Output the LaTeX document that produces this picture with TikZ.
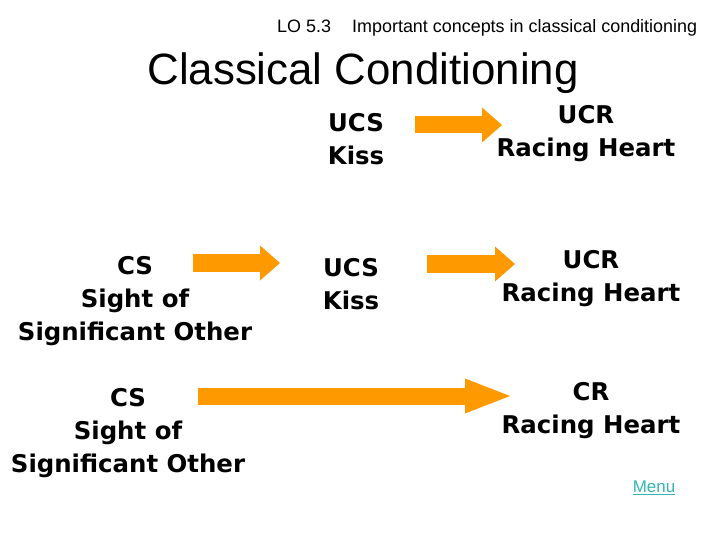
\documentclass[tikz,border=0pt]{standalone}
\usepackage{fontspec}
\setmainfont{Liberation Sans}
\newfontfamily\comicfont{DejaVu Sans}
\usetikzlibrary{arrows.meta}
\definecolor{arrowfill}{HTML}{FF9900}
\definecolor{menulink}{HTML}{33B5B5}
\tikzset{
  term/.style={align=center, inner sep=0pt, font=\comicfont\bfseries\fontsize{24.5}{33}\selectfont},
  fat arrow/.style={draw=arrowfill, line width=17bp, -{Triangle[length=#1,width=35bp,line width=0pt]}},
  fat arrow/.default=20bp
}

\begin{document}
\begin{tikzpicture}[x=1bp, y=-1bp]
  \useasboundingbox (0,0) rectangle (720,540);
  \node[anchor=base west, inner sep=0pt, font=\fontsize{18}{20}\selectfont] (lo) at (277,33) {LO 5.3};
  \node[anchor=base west, inner sep=0pt, font=\fontsize{18}{20}\selectfont] (topic) at (352,33) {Important concepts in classical conditioning};
  \node[font=\fontsize{44}{48}\selectfont] (title) at (363,73) {Classical Conditioning};

  % row 1
  \node[term] (ucsA) at (356,139) {UCS\\Kiss};
  \node[term] (ucrA) at (586,134) {UCR\\Racing Heart};
  % row 2
  \node[term] (csB) at (135,301) {CS\\Sight of\\Significant Other};
  \node[term] (ucsB) at (351,284) {UCS\\Kiss};
  \node[term] (ucrB) at (591,279) {UCR\\Racing Heart};
  % row 3
  \node[term] (csC) at (128,433) {CS\\Sight of\\Significant Other};
  \node[term] (crC) at (591,411) {CR\\Racing Heart};

  \coordinate (a1s) at (415,125);
  \coordinate (a1e) at (502,125);
  \coordinate (a2s) at (193,263);
  \coordinate (a2e) at (280,263);
  \coordinate (a3s) at (427,264);
  \coordinate (a3e) at (515,264);
  \coordinate (a4s) at (198,396);
  \coordinate (a4e) at (510,396);
  \draw[fat arrow] (a1s) -- (a1e);
  \draw[fat arrow] (a2s) -- (a2e);
  \draw[fat arrow] (a3s) -- (a3e);
  \draw[fat arrow=45bp] (a4s) -- (a4e);

  \node[text=menulink, font=\fontsize{17}{19}\selectfont] (menu) at (654,488) {\underline{Menu}};
\end{tikzpicture}
\end{document}
